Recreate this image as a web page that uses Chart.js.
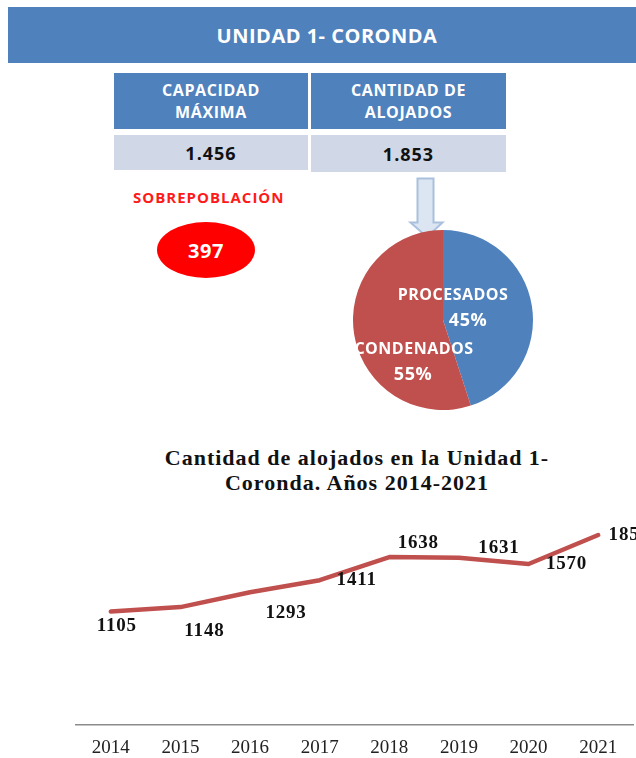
<!DOCTYPE html>
<html>
<head>
<meta charset="utf-8">
<script src="https://cdn.jsdelivr.net/npm/chart.js@4/dist/chart.umd.min.js"></script>
<style>
  html, body { margin: 0; padding: 0; background: #fff; }
  body { width: 636px; height: 758px; overflow: hidden; position: relative; font-family: "Open Sans", "Liberation Sans", sans-serif; }
  .abs { position: absolute; }
  .banner { left: 8px; top: 7px; width: 640px; height: 56px; background: #4f81bd; color: #fff;
            font-weight: bold; font-size: 20px; letter-spacing: 0.5px; line-height: 57px; }
  .banner span { position: absolute; left: 0; width: 638px; text-align: center; }
  .cell { background: #4f81bd; color: #fff; font-weight: bold; font-size: 16px; letter-spacing: 0.6px; line-height: 22px;
          text-align: center; display: flex; align-items: center; justify-content: center; }
  .val { background: #d0d8e8; color: #111; font-weight: bold; font-size: 18px; letter-spacing: 1px;
         display: flex; align-items: center; justify-content: center; }
  .sobre { left: 133px; top: 187px; color: #ff1a1a; font-weight: bold; font-size: 15px; letter-spacing: 1px; }
  .oval { left: 157px; top: 222px; width: 98px; height: 56px; border-radius: 50%; background: #ff0000;
          color: #fff; font-weight: bold; font-size: 20px; letter-spacing: 0.5px; display: flex; align-items: center; justify-content: center; }
  .ltitle { left: 0; width: 714px; top: 445px; text-align: center; font-family: "Liberation Serif", serif;
            font-weight: bold; font-size: 22px; letter-spacing: 1px; line-height: 25px; color: #111; }
</style>
</head>
<body>

<div class="abs banner"><span>UNIDAD 1- CORONDA</span></div>

<div class="abs cell" style="left:114px;top:73px;width:194px;height:56px;">CAPACIDAD<br>MÁXIMA</div>
<div class="abs cell" style="left:311px;top:73px;width:195px;height:56px;">CANTIDAD DE<br>ALOJADOS</div>
<div class="abs val" style="left:114px;top:135px;width:194px;height:35px;" id="cap"></div>
<div class="abs val" style="left:311px;top:135px;width:195px;height:37px;" id="aloj"></div>

<div class="abs sobre">SOBREPOBLACIÓN</div>
<div class="abs oval" id="over"></div>

<svg class="abs" style="left:405px;top:175px;" width="44" height="66">
  <path d="M12.5,3.5 H28.5 V47.5 H37.5 L22,62 L5.5,47.5 H12.5 Z" fill="#dce6f2" stroke="#a9c0de" stroke-width="2"/>
</svg>

<div class="abs" style="left:343px;top:220px;width:200px;height:200px;">
  <canvas id="pie" width="200" height="200"></canvas>
</div>

<div class="abs ltitle">Cantidad de alojados en la Unidad 1-<br>Coronda. Años 2014-2021</div>

<div class="abs" style="left:0;top:500px;width:636px;height:280px;">
  <canvas id="line" width="636" height="280"></canvas>
</div>

<script>
// cuadro superior
const capacidad = "1.456";
const alojados = "1.853";
const sobrepoblacion = "397";

// torta
const pieLabels = ["PROCESADOS", "CONDENADOS"];
const pieValues = [45, 55];
const pieColors = ["#4f81bd", "#c0504d"];

// serie anual
const years = ["2014", "2015", "2016", "2017", "2018", "2019", "2020", "2021"];
const alojadosPorAnio = [1105, 1148, 1293, 1411, 1638, 1631, 1570, 1853];

document.getElementById("cap").textContent = capacidad;
document.getElementById("aloj").textContent = alojados;
document.getElementById("over").textContent = sobrepoblacion;

/* --- etiquetas de la torta --- */
const pieLabelPos = [[10, -24.5, 25, 0.5], [-29, 29.5, -30, 54.5]]; // dx,dy nombre / dx,dy porcentaje
const pieLabelPlugin = {
  id: "pieLabels",
  afterDatasetsDraw(chart) {
    const arc = chart.getDatasetMeta(0).data[0];
    const cx = arc.x, cy = arc.y;
    const ctx = chart.ctx;
    ctx.save();
    ctx.fillStyle = "#fff";
    ctx.textAlign = "center";
    ctx.textBaseline = "middle";
    ctx.letterSpacing = "0.5px";
    pieLabels.forEach((lab, i) => {
      const p = pieLabelPos[i];
      ctx.font = "bold 16px 'Open Sans', sans-serif";
      ctx.fillText(lab, cx + p[0], cy + p[1]);
      ctx.font = "bold 18px 'Open Sans', sans-serif";
      ctx.fillText(pieValues[i] + "%", cx + p[2], cy + p[3]);
    });
    ctx.restore();
  }
};

new Chart(document.getElementById("pie"), {
  type: "pie",
  data: { labels: pieLabels, datasets: [{ data: pieValues, backgroundColor: pieColors, borderWidth: 0 }] },
  options: {
    responsive: false, animation: false,
    layout: { padding: 10 },
    plugins: { legend: { display: false }, tooltip: { enabled: false } }
  },
  plugins: [pieLabelPlugin]
});

/* --- etiquetas de la linea --- */
const lineLabelOffsets = [[6, 14.5], [24, 24], [36, 21], [37, 0], [29, -14], [40, -10], [38, 0], [31, 0]];
const lineLabelPlugin = {
  id: "lineLabels",
  afterDatasetsDraw(chart) {
    const ctx = chart.ctx;
    const pts = chart.getDatasetMeta(0).data;
    ctx.save();
    ctx.fillStyle = "#111";
    ctx.font = "bold 19px 'Liberation Serif', serif";
    ctx.letterSpacing = "0.8px";
    ctx.textAlign = "center";
    ctx.textBaseline = "middle";
    pts.forEach((pt, i) => {
      const o = lineLabelOffsets[i];
      ctx.fillText(String(alojadosPorAnio[i]), pt.x + o[0], pt.y + o[1]);
    });
    ctx.restore();
  }
};

new Chart(document.getElementById("line"), {
  type: "line",
  data: {
    labels: years,
    datasets: [{
      data: alojadosPorAnio,
      borderColor: "#c0504d", borderWidth: 4.5, pointRadius: 0, tension: 0,
      borderCapStyle: "round", borderJoinStyle: "round"
    }]
  },
  options: {
    responsive: false, animation: false,
    layout: { padding: { left: 76, right: 3, top: 20, bottom: 21.5 } },
    plugins: { legend: { display: false }, tooltip: { enabled: false } },
    scales: {
      x: {
        offset: true,
        afterFit: s => { s.height = 34; },
        grid: { display: false, drawTicks: false },
        border: { display: true, color: "#8c8c8c", width: 1.5 },
        ticks: { padding: 12, color: "#222", maxRotation: 0, font: { family: "'Liberation Serif', serif", size: 19 } }
      },
      y: { display: false, min: 0, max: 2000 }
    }
  },
  plugins: [lineLabelPlugin]
});
</script>
</body>
</html>
